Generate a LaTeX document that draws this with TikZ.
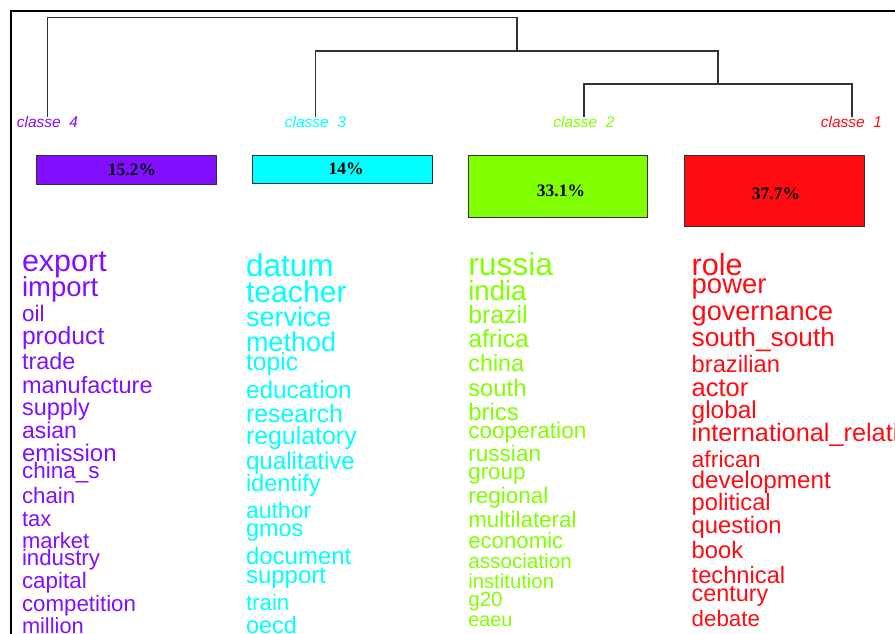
\documentclass[tikz,border=0pt]{standalone}
\usepackage{fontspec}
\setmainfont{Liberation Sans}
\newfontfamily\pctfont{Liberation Serif}
\definecolor{cfour}{RGB}{128,16,255}
\definecolor{cthree}{RGB}{0,255,255}
\definecolor{ctwo}{RGB}{128,255,0}
\definecolor{cone}{RGB}{255,12,18}
\definecolor{treeline}{RGB}{50,50,50}
\tikzset{
  word/.style={anchor=base west,inner sep=0pt,outer sep=0pt},
  classlab/.style={anchor=base,inner sep=0pt,font=\fontsize{15.5}{15.5}\selectfont\itshape},
  pctbox/.style={draw=black!80,line width=1pt},
  pct/.style={inner sep=0pt,font=\pctfont\bfseries\fontsize{17.5}{17.5}\selectfont},
  tree/.style={draw=treeline,line width=1.3pt},
}
\begin{document}
\begin{tikzpicture}[x=1pt,y=-1pt]
\useasboundingbox (0,0) rectangle (895,634);
\clip (0,0) rectangle (895,634);
\fill[white] (0,0) rectangle (895,634);
% frame
\draw[line width=2pt,black] (10.5,640) -- (10.5,11) -- (900,11);

% class labels
\node[classlab,text=cfour]  (c4) at (47.5,128) {classe\ \ 4};
\node[classlab,text=cthree] (c3) at (315.5,128) {classe\ \ 3};
\node[classlab,text=ctwo]   (c2) at (584,128) {classe\ \ 2};
\node[classlab,text=cone]   (c1) at (851.5,128) {classe\ \ 1};

% dendrogram
\coordinate (l4) at (47.5,116.5);
\coordinate (l3) at (315.5,116.5);
\coordinate (l2) at (584,116.5);
\coordinate (l1) at (852,116.5);
\coordinate (j12) at (718,84);
\coordinate (j123) at (517,51);
\draw[tree] (l2) |- (j12) -| (l1);
\draw[tree] (l3) |- (j123) -| (j12);
\draw[tree] (l4) |- (517,17.7) -- (j123);

% percentage boxes
\draw[pctbox,fill=cfour]  (36,155.3) rectangle (216.5,184) coordinate (b4);
\draw[pctbox,fill=cthree] (252.7,155.3) rectangle (432,183) coordinate (b3);
\draw[pctbox,fill=ctwo]   (468.3,155.3) rectangle (647,217) coordinate (b2);
\draw[pctbox,fill=cone]   (684,155.3) rectangle (864,226) coordinate (b1);
\node[pct] (p4) at (132,169.5) {15.2\%};
\node[pct] (p3) at (346,169) {14\%};
\node[pct] (p2) at (561,190.5) {33.1\%};
\node[pct] (p1) at (776,194.3) {37.7\%};

% class 4 words
\foreach \w/\s/\y [count=\i] in {
  export/30.5/271.7, import/27.5/296.5, oil/22.5/321.5, product/24.7/344,
  trade/23.4/369.3, manufacture/23.5/393.3, supply/23.5/415, asian/23/438.3,
  emission/24/461.7, china\_s/22.5/478.3, chain/22.3/503.3, tax/22/526.7,
  market/22/548.3, industry/22.3/565, capital/22.4/588.3, competition/22.3/611.7,
  million/21.8/633.5}
  \node[word,text=cfour,font=\fontsize{\s}{\s}\selectfont] (wa\i) at (22,\y) {\w};

% class 3 words
\foreach \w/\s/\y [count=\i] in {
  datum/31.5/276, teacher/30.2/302.7, service/27/326, method/27/351.7,
  topic/24.8/370.7, education/24.4/398.3, research/24.9/422.7, regulatory/24.9/444,
  qualitative/24.2/469.3, identify/23.6/491.7, author/23/518.3, gmos/23.5/536,
  document/24/564, support/24/583.3, train/22.3/610, oecd/23.5/633}
  \node[word,text=cthree,font=\fontsize{\s}{\s}\selectfont] (wb\i) at (246,\y) {\w};

% class 2 words
\foreach \w/\s/\y [count=\i] in {
  russia/31.8/275, india/27.6/300, brazil/24.8/323.3, africa/24.8/347.3,
  china/23.4/371.7, south/23.8/396, brics/24/420, cooperation/22.6/438.3,
  russian/22.6/461.7, group/22.4/479.3, regional/22.5/503.3, multilateral/22.4/527.3,
  economic/22.2/548.3, association/20.7/568.3, institution/20.3/588.3, g20/20.6/606.7,
  eaeu/19.8/626.7}
  \node[word,text=ctwo,font=\fontsize{\s}{\s}\selectfont] (wc\i) at (468.3,\y) {\w};

% class 1 words
\foreach \w/\s/\y [count=\i] in {
  role/30.6/275, power/27.5/293.3, governance/27.1/320, south\_south/26.3/346,
  brazilian/23.7/372.7, actor/25.5/396.7, global/24.4/418.3,
  international\_relati/25.3/441.5, african/23/467.3, development/24.3/488.3,
  political/23.7/510.7, question/23.8/533.3, book/23.8/558.3, technical/23.7/583.3,
  century/23.4/601.7, debate/22.3/626}
  \node[word,text=cone,font=\fontsize{\s}{\s}\selectfont] (wd\i) at (691.7,\y) {\w};
\end{tikzpicture}
\end{document}
